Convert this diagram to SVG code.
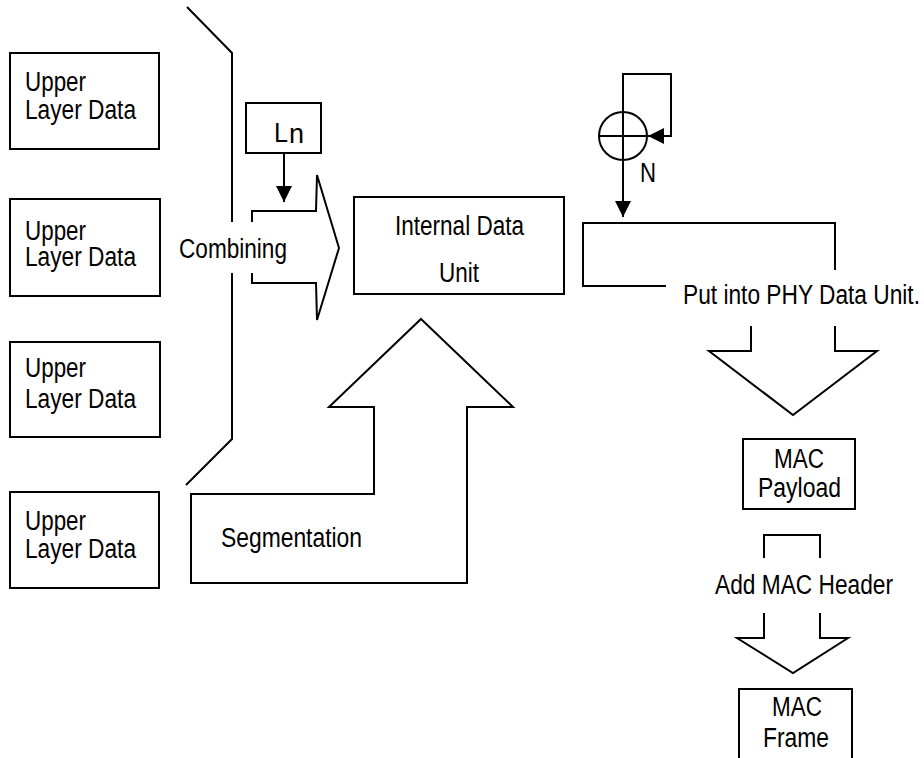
<svg xmlns="http://www.w3.org/2000/svg" width="924" height="758" viewBox="0 0 924 758">
<defs>
<style>
.s{fill:none;stroke:#000;stroke-width:2}
.b{fill:#fff;stroke:#000;stroke-width:2}
text{font-family:"Liberation Sans",Arial,sans-serif;font-size:27px;fill:#000}
</style>
<marker id="ah" viewBox="0 0 10 10" refX="10" refY="5" markerWidth="16" markerHeight="16" markerUnits="userSpaceOnUse" orient="auto"><path d="M0,0 L10,5 L0,10 Z" fill="#000"/></marker>
</defs>
<g id="upper1"><rect class="b" x="10" y="53" width="149" height="96"/><text x="25" y="91" textLength="61" lengthAdjust="spacingAndGlyphs">Upper</text><text x="25" y="119" textLength="111" lengthAdjust="spacingAndGlyphs">Layer Data</text></g>
<g id="upper2"><rect class="b" x="10" y="199" width="150" height="97"/><text x="25" y="240" textLength="61" lengthAdjust="spacingAndGlyphs">Upper</text><text x="25" y="266" textLength="111" lengthAdjust="spacingAndGlyphs">Layer Data</text></g>
<g id="upper3"><rect class="b" x="10" y="342" width="150" height="95"/><text x="25" y="377" textLength="61" lengthAdjust="spacingAndGlyphs">Upper</text><text x="25" y="408" textLength="111" lengthAdjust="spacingAndGlyphs">Layer Data</text></g>
<g id="upper4"><rect class="b" x="10" y="492" width="149" height="96"/><text x="25" y="530" textLength="61" lengthAdjust="spacingAndGlyphs">Upper</text><text x="25" y="558" textLength="111" lengthAdjust="spacingAndGlyphs">Layer Data</text></g>
<g id="ln"><rect class="b" x="246" y="103" width="75" height="50"/><text x="274" y="142" textLength="14" lengthAdjust="spacingAndGlyphs">L</text><text x="289" y="143" font-size="15">n</text></g>
<g id="combining"><polyline class="s" points="252,222 252,211 316,211 317,175 339,248 317,320 316,283 252,283 252,273"/><text x="179" y="258" textLength="108" lengthAdjust="spacingAndGlyphs">Combining</text></g>
<g id="internal"><rect class="b" x="354" y="197" width="210" height="97"/><text x="395" y="235" textLength="129" lengthAdjust="spacingAndGlyphs">Internal Data</text><text x="439" y="282" textLength="40" lengthAdjust="spacingAndGlyphs">Unit</text></g>
<g id="segmentation"><polygon class="s" points="421,319 513,407 467,407 467,583 191,583 191,494 374,494 374,407 329,407"/><text x="221" y="547" textLength="141" lengthAdjust="spacingAndGlyphs">Segmentation</text></g>
<g id="adder"><circle class="s" cx="623" cy="136" r="24"/><line class="s" x1="599" y1="136" x2="647" y2="136"/><text x="640" y="182" textLength="16" lengthAdjust="spacingAndGlyphs">N</text></g>
<g id="phy"><polyline class="s" points="835,270 835,223 583,223 583,286 666,286"/><text x="683" y="304" textLength="237" lengthAdjust="spacingAndGlyphs">Put into PHY Data Unit.</text><polyline class="s" points="751,326 751,351 709,351 793,415 877,351 835,351 835,326"/></g>
<g id="payload"><rect class="b" x="743" y="439" width="112" height="70"/><text x="774" y="468" textLength="50" lengthAdjust="spacingAndGlyphs">MAC</text><text x="758" y="497" textLength="83" lengthAdjust="spacingAndGlyphs">Payload</text></g>
<g id="header"><polyline class="s" points="764,558 764,535 820,535 820,558"/><text x="715" y="594" textLength="178" lengthAdjust="spacingAndGlyphs">Add MAC Header</text><polyline class="s" points="764,613 764,638 737,638 793,673 848,638 820,638 820,613"/></g>
<g id="frame"><rect class="b" x="739" y="689" width="113" height="90"/><text x="772" y="716" textLength="50" lengthAdjust="spacingAndGlyphs">MAC</text><text x="763" y="747" textLength="66" lengthAdjust="spacingAndGlyphs">Frame</text></g>
<g id="connectors">
<polyline class="s" points="187,7 232,53 232,222"/>
<polyline class="s" points="232,273 232,439 186,485"/>
<line class="s" x1="284" y1="153" x2="284" y2="202" marker-end="url(#ah)"/>
<polyline class="s" points="623,160 623,74 671,74 671,136 648,136" marker-end="url(#ah)"/>
<line class="s" x1="623" y1="160" x2="623" y2="217" marker-end="url(#ah)"/>
</g>
</svg>
